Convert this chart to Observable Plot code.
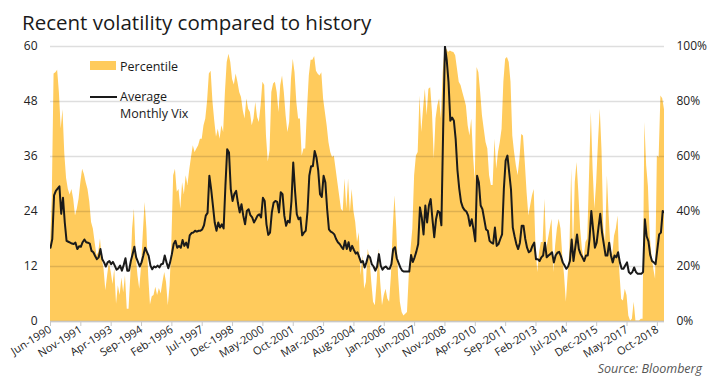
<!DOCTYPE html>
<html>
<head>
<meta charset="utf-8">
<script src="https://cdn.jsdelivr.net/npm/d3@7"></script>
<script src="https://cdn.jsdelivr.net/npm/@observablehq/plot@0.6"></script>
<style>
  html, body { margin: 0; padding: 0; background: #fff; }
  #wrap { position: relative; width: 714px; height: 384px; font-family: "Open Sans", sans-serif; color: #1a1a1a; }
  #title { position: absolute; left: 22px; top: 10px; font-size: 20.5px; line-height: 24px; white-space: nowrap; }
  #caption { position: absolute; right: 12px; top: 360px; font-size: 12.5px; font-style: italic; color: #555; }
  .leg { position: absolute; font-size: 12.5px; line-height: 17px; color: #1a1a1a; white-space: nowrap; }
  #chart svg { position: absolute; left: 0; top: 0; }
</style>
</head>
<body>
<div id="wrap">
  <div id="chart"></div>
  <div id="title">Recent volatility compared to history</div>
  <div class="leg" style="left:90px;top:61px;width:26px;height:9px;background:#FFCB5C;"></div>
  <div class="leg" style="left:120px;top:57.5px;">Percentile</div>
  <div class="leg" style="left:90px;top:96px;width:27px;height:2px;background:#1a1a1a;"></div>
  <div class="leg" style="left:120px;top:87.5px;">Average</div>
  <div class="leg" style="left:120px;top:105px;">Monthly Vix</div>
  <div id="caption">Source: Bloomberg</div>
</div>
<script>
// Monthly average VIX, Jun-1990 onward (one value per month)
const vix = [
  16.1, 18, 27.5, 28.5, 29, 29.5, 23.5, 27, 21.6, 17.6,
  17.4, 17.2, 17, 16.9, 17.2, 15.8, 16.4, 16.3, 17.3, 17.9,
  17.3, 17.2, 17, 15.4, 15.1, 14.3, 13.6, 14, 15.8, 13.6,
  12.9, 12, 12.9, 13.2, 12.5, 13, 12.2, 11.3, 11.6, 12.2,
  11.1, 12.3, 13.8, 11.1, 11.1, 13.2, 14.7, 16.3, 14, 13,
  12, 12.9, 14.4, 16.1, 15.2, 14.3, 12.2, 11.4, 12, 11.8,
  12.2, 11.8, 12.5, 12.6, 14.4, 12.9, 11.6, 12.9, 14.7, 16.9,
  17.6, 16.1, 16.5, 16.1, 17.8, 16.5, 17.2, 16.1, 18.8, 19.3,
  19.4, 19.8, 19.6, 19.8, 19.8, 20.1, 21, 23.1, 23.7, 31.8,
  28.9, 25.3, 21.6, 19.8, 21.6, 20.5, 21.2, 20.3, 29.6, 37.6,
  36.9, 28.9, 26.3, 27.8, 28.5, 25.9, 23.8, 25.6, 23.1, 21.2,
  24.1, 24.5, 23.2, 22.7, 21.6, 22.3, 23.1, 23.4, 22.7, 27,
  26.3, 21.2, 18.9, 19.4, 23.8, 25.9, 26.3, 26.1, 23.8, 28.2,
  27.8, 23.1, 20.9, 22, 21.6, 26.3, 34.7, 28.5, 23.4, 22.3,
  22.7, 18.8, 19.4, 19.8, 24.1, 31.8, 33.9, 33.9, 37.2, 35.8,
  32.9, 27.8, 27.2, 31.8, 30.3, 24.5, 20.1, 19.6, 19.4, 19,
  18, 17.3, 16.9, 16.3, 15.8, 17.6, 15.8, 17.3, 15.4, 16.5,
  15.6, 14.8, 15.1, 14, 12.9, 13.2, 11.8, 12.9, 14.4, 14,
  12.5, 12, 11.1, 12, 14.7, 12.2, 11.3, 11.8, 12, 11.5,
  11.5, 12.5, 15.8, 16.2, 13.8, 12.8, 11.8, 11.1, 10.9, 10.9,
  10.9, 10.9, 14.5, 13, 14, 15.3, 16.9, 24.9, 22.7, 19,
  25.3, 21.6, 25.3, 26.7, 22.3, 18.4, 22.3, 24.1, 23.8, 21,
  42, 60, 57, 52.2, 43.8, 44.5, 43.8, 39.8, 33, 29,
  26.1, 24.9, 24.3, 24, 23.1, 20.9, 22.3, 20.1, 17.5, 31.8,
  30.3, 25.3, 24.5, 22.3, 20.1, 19.8, 17.6, 17.2, 17, 20.5,
  16.5, 16.9, 18, 19, 28.9, 35.1, 36.2, 32.5, 28.8, 20.5,
  18.6, 16.9, 15.8, 17.2, 20.9, 20.9, 18, 16.1, 15.1, 15.4,
  16.5, 17.2, 13.6, 13.6, 13.2, 14, 14.4, 17.2, 14, 14.4,
  14.7, 15.1, 12.9, 14.4, 15, 15.2, 14.2, 12.9, 12.2, 11.5,
  12, 13.2, 17.9, 13.2, 16.1, 19, 15.8, 14.7, 14, 13.2,
  14.4, 14.4, 18, 24.1, 20.1, 16.1, 17.2, 20.5, 23.5, 19.4,
  16.9, 14.4, 14.4, 17.2, 14.4, 12.9, 14.4, 14, 15.1, 12.9,
  11.5, 11.5, 12.2, 12.9, 10.8, 10.4, 10.8, 11.8, 10.8, 10.4,
  10.4, 10.4, 10.8, 22.3, 18.6, 17.5, 14.5, 13.2, 12.9, 12.5,
  15.8, 19, 19.4, 24.1, 23.8
];

// Percentile of volatility vs history (%), same months
const percentile = [
  27, 45, 90, 90.5, 91.4, 83, 70, 77, 61, 52,
  48, 46, 48, 44.5, 38.4, 40.8, 44.5, 50.5, 55.4, 53.5,
  50.5, 48, 43.5, 36, 33.6, 28.7, 23.9, 25, 30, 22.8,
  19, 11.2, 16.6, 21.5, 18, 13.5, 19, 6.3, 13, 9.5,
  15.8, 10.5, 16.6, 4.5, 4.5, 16.6, 33.6, 40.8, 24, 16.6,
  11.7, 20, 32, 43.3, 33.6, 16.6, 6, 9, 9.5, 12.5,
  9.5, 12, 10, 14.2, 17.8, 14.2, 5.7, 13, 28.7, 53,
  55.4, 47, 48, 40.8, 50.5, 46, 53, 49.5, 55, 59.6,
  63.9, 61.5, 62.7, 63.9, 66.3, 66.3, 71.2, 73.6, 80, 90,
  91, 80, 73, 67, 69.9, 66.3, 71.2, 68.7, 83.3, 94.2,
  97.2, 94.2, 88, 86, 90, 87, 83.3, 81.5, 76.6, 73.6,
  80.9, 77.2, 76, 71.2, 73.6, 79.6, 74.2, 72.4, 78.5, 87,
  85.8, 67.5, 58, 62, 83.3, 86.4, 87, 83.3, 76, 85.8,
  89.3, 83.3, 74.8, 68.7, 72.4, 88, 95.4, 90.5, 79.6, 73.6,
  73.6, 60.2, 62.7, 62.7, 77.2, 89.3, 95, 95, 96.4, 91,
  89.9, 89.3, 90.5, 80.9, 76, 71.2, 65.1, 61.5, 59.6, 60.2,
  55.4, 50.5, 45.6, 40.8, 40, 51.8, 40.8, 51.8, 39.6, 48,
  40, 36, 28.7, 32.3, 16.6, 24, 11.7, 14.2, 26.3, 22.8,
  14.2, 7, 5.7, 14.2, 26.3, 14.2, 5.7, 9.5, 11.7, 8.2,
  7, 16.6, 33.6, 45.7, 33.6, 16.6, 7, 3.3, 2, 2.6,
  3.3, 16.6, 26.3, 33.6, 53, 60.2, 61.5, 82, 68.7, 77.2,
  84.5, 74.8, 84.5, 85, 76, 59, 73.6, 78.5, 80.9, 73.6,
  90.5, 99, 99, 97.8, 98.4, 98, 97.8, 96.6, 91.8, 87,
  85.8, 83.3, 80.9, 78.4, 71.2, 67.5, 73.6, 60.2, 51, 92.4,
  90.5, 83.3, 74.8, 69.9, 65.1, 62.7, 53, 49.5, 49.5, 66.3,
  55.4, 61.5, 65.1, 69.9, 87, 95.4, 96, 94.2, 87, 67.5,
  61.5, 56.6, 53, 59, 68, 67.5, 57.8, 46.9, 38.4, 42,
  45.6, 48, 27, 17.8, 25, 28.7, 28.7, 44.5, 26.3, 30,
  33.6, 37.2, 17.8, 27.5, 33.6, 37.2, 33.6, 23.9, 16.6, 7,
  16.6, 26, 55.4, 25, 50.5, 57.8, 46.9, 33.6, 26.3, 22.8,
  28.7, 30, 53, 76, 55.4, 40.8, 50.5, 65.1, 77.2, 62,
  33.6, 28.7, 53, 38.4, 26.3, 23.9, 31, 33.6, 38.4, 17.8,
  8, 7.5, 11.7, 9.5, 2, 0.2, 0.8, 7, 0.2, 0.2,
  0.2, 0.8, 0.8, 72.4, 56.6, 49, 31, 23.9, 19, 15.4,
  60.2, 59.6, 82, 81, 77
];

// X-axis tick labels, one every 17 months starting with the first month
const tickLabels = [
  "Jun-1990", "Nov-1991", "Apr-1993", "Sep-1994", "Feb-1996", "Jul-1997", "Dec-1998",
  "May-2000", "Oct-2001", "Mar-2003", "Aug-2004", "Jan-2006", "Jun-2007", "Nov-2008",
  "Apr-2010", "Sep-2011", "Feb-2013", "Jul-2014", "Dec-2015", "May-2017", "Oct-2018"
];
const tickStep = 17;
const leftTicks = [0, 12, 24, 36, 48, 60];

const data = vix.map((v, i) => ({i, vix: v, pct: percentile[i]}));
const tickIdx = tickLabels.map((_, k) => k * tickStep);
const n = vix.length;

const chart = Plot.plot({
  width: 714,
  height: 384,
  marginLeft: 50,
  marginRight: 50,
  marginTop: 46,
  marginBottom: 63,
  style: {fontFamily: "'Open Sans', sans-serif", fontSize: "12px", color: "#222", background: "transparent", overflow: "visible"},
  x: {type: "linear", domain: [0, n - 1]},
  y: {domain: [0, 60]},
  marks: [
    Plot.areaY(data, {x: "i", y: d => d.pct * 0.6, fill: "#FFCB5C", curve: "linear"}),
    Plot.gridY(leftTicks, {stroke: "#000", strokeOpacity: 0.13, strokeWidth: 1.5}),
    Plot.ruleY([0], {stroke: "#c8c8c8", strokeWidth: 1.5}),
    Plot.lineY(data, {x: "i", y: "vix", stroke: "#1a1a1a", strokeWidth: 2, clip: true}),
    Plot.axisY(leftTicks, {anchor: "left", tickSize: 0, tickPadding: 13, label: null, fontSize: 12}),
    Plot.axisY(leftTicks, {anchor: "right", tickSize: 0, tickPadding: 12, label: null, fontSize: 12,
      tickFormat: d => Math.round(d / 60 * 100) + "%", textAnchor: "start"}),
    Plot.axisX(tickIdx, {anchor: "bottom", tickSize: 5, stroke: "#c8c8c8", tickPadding: 2,
      tickRotate: -32, label: null, fontSize: 11,
      tickFormat: (d, k) => tickLabels[tickIdx.indexOf(d)]})
  ]
});
document.getElementById("chart").appendChild(chart);
</script>
</body>
</html>
